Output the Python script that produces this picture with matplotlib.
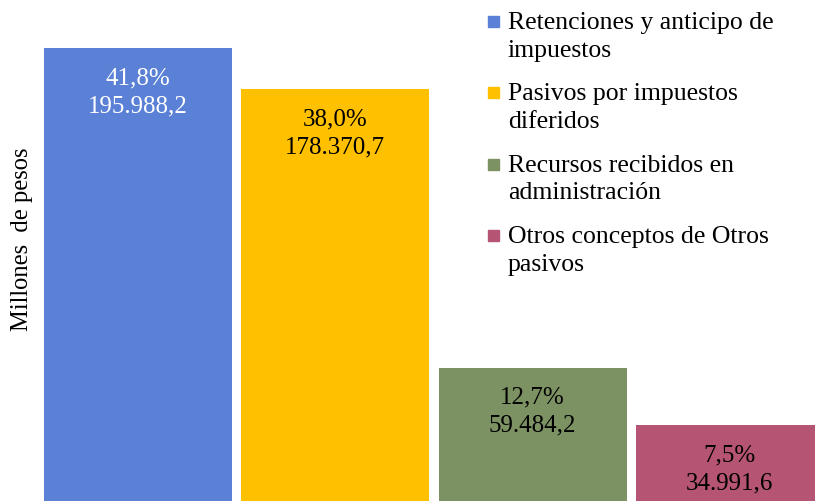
#!/usr/bin/env python3
"""Otros pasivos: composition bar chart (millones de pesos)."""

import matplotlib

matplotlib.use("Agg")
import matplotlib.pyplot as plt
from matplotlib.patches import Rectangle

plt.rcParams["font.family"] = ["Liberation Serif", "DejaVu Serif"]

categories = [
    "Retenciones y anticipo de\nimpuestos",
    "Pasivos por impuestos\ndiferidos",
    "Recursos recibidos en\nadministración",
    "Otros conceptos de Otros\npasivos",
]
values = [195988.2, 178370.7, 59484.2, 34991.6]
shares = ["41,8%", "38,0%", "12,7%", "7,5%"]
value_labels = ["195.988,2", "178.370,7", "59.484,2", "34.991,6"]

COLORS = ["#5A81D6", "#FFC000", "#7D9262", "#B55473"]
TEXT_COLORS = ["white", "black", "black", "black"]

W, H = 815, 502


def main() -> None:
    fig = plt.figure(figsize=(W / 100, H / 100), dpi=100)
    # axes run a little past the bottom edge, like the cropped original
    ax = fig.add_axes([39.3 / W, -6 / H, 789.3 / W, 508 / H])
    x = range(len(values))
    bars = ax.bar(x, values, width=0.953, color=COLORS)
    ax.set_xlim(-0.5, 3.5)
    ax.set_ylim(0, 216900)
    ax.axis("off")

    for bar, share, label, tc in zip(bars, shares, value_labels, TEXT_COLORS):
        ax.annotate(
            f"{share}\n{label}",
            (bar.get_x() + bar.get_width() / 2, bar.get_height()),
            xytext=(0, -13),
            textcoords="offset points",
            ha="center",
            va="top",
            fontsize=18,
            color=tc,
            linespacing=1.36,
        )

    fig.text(22 / W, 1 - 239 / H, "Millones  de pesos", rotation=90,
             ha="center", va="center", fontsize=17.7)

    # legend drawn by hand so the marker sits on the first text line
    for i, (name, color) in enumerate(zip(categories, COLORS)):
        y_first = 23 + i * 71.3
        fig.patches.append(Rectangle(
            (488 / W, 1 - (y_first + 5) / H), 11 / W, 11 / H,
            transform=fig.transFigure, color=color, figure=fig))
        fig.text(508 / W, 1 - (y_first - 11) / H, name, ha="left", va="top",
                 fontsize=18.5, linespacing=1.34)

    fig.savefig("out.png", dpi=100)
    plt.close(fig)


if __name__ == "__main__":
    main()
